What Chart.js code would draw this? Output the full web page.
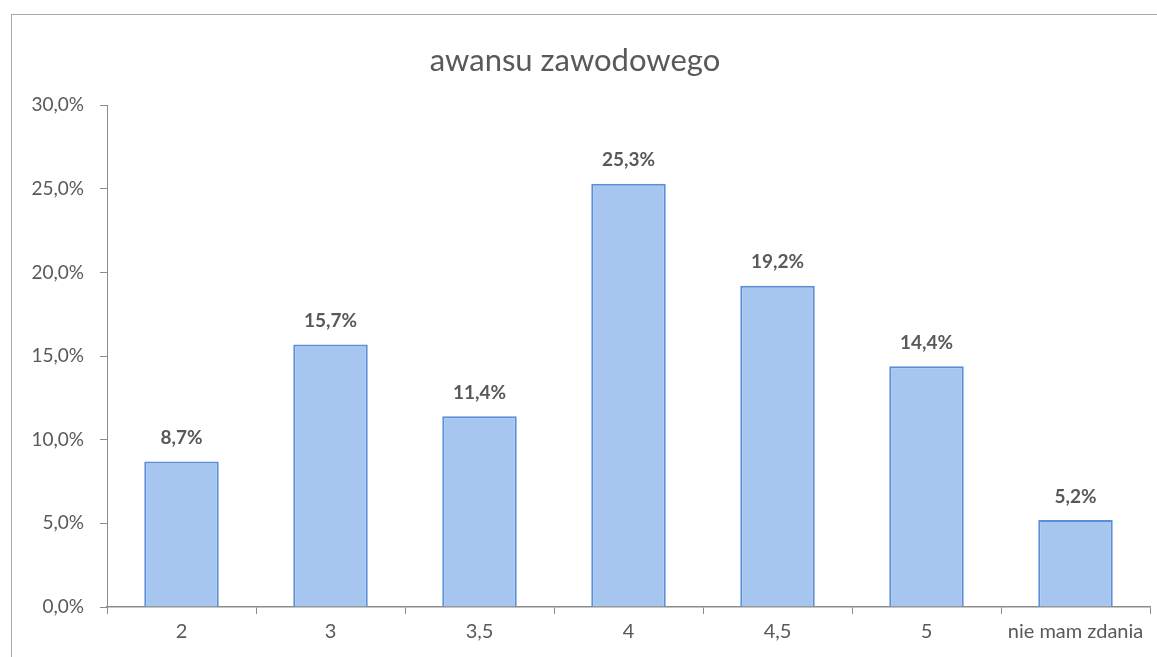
<!DOCTYPE html>
<html>
<head>
<meta charset="utf-8">
<script src="https://cdn.jsdelivr.net/npm/chart.js@4/dist/chart.umd.min.js"></script>
<style>
  html, body { margin: 0; padding: 0; background: #fff; }
  #wrap { position: relative; width: 1157px; height: 657px; overflow: hidden; }
  /* outer chart frame, its right and bottom edges fall outside the picture */
  #frame { position: absolute; left: 11px; top: 14px; width: 1200px; height: 700px;
           border: 1px solid #a8a8b4; }
  #chart { position: absolute; left: 0; top: 0; }
</style>
</head>
<body>
<div id="wrap">
  <div id="frame"></div>
  <canvas id="chart" width="1157" height="657"></canvas>
</div>
<script>
/* ── Data ─────────────────────────────────────────────── */
const categories = ["2", "3", "3,5", "4", "4,5", "5", "nie mam zdania"];
const values     = [8.7, 15.7, 11.4, 25.3, 19.2, 14.4, 5.2];
const yTicks     = [0, 5, 10, 15, 20, 25, 30];

const TEXT_GREY = "#595959";
const FONT = "Lato, 'Open Sans', sans-serif";

/* Polish number format: 15.7 -> "15,7%" */
function pct(v) {
  return v.toFixed(1).replace(".", ",") + "%";
}

/* ── Value labels above each bar ──────────────────────── */
const barLabels = {
  id: "barLabels",
  afterDatasetsDraw(chart) {
    const ctx = chart.ctx;
    const meta = chart.getDatasetMeta(0);
    ctx.save();
    ctx.font = "bold 19px " + FONT;
    ctx.fillStyle = TEXT_GREY;
    ctx.textAlign = "center";
    ctx.textBaseline = "bottom";
    meta.data.forEach((bar, i) => {
      ctx.fillText(pct(values[i]), bar.x, bar.y - 14);
    });
    ctx.restore();
  }
};

new Chart(document.getElementById("chart"), {
  type: "bar",
  data: {
    labels: categories,
    datasets: [{
      data: values,
      backgroundColor: "#a6c6f0",
      borderColor: "#5a8fd8",
      borderWidth: 2,
      categoryPercentage: 1,
      barPercentage: 0.5
    }]
  },
  options: {
    responsive: false,
    animation: false,
    layout: { padding: { left: 0, right: 7, top: 0, bottom: 0 } },
    plugins: {
      legend: { display: false },
      tooltip: { enabled: false },
      title: {
        display: true,
        text: "awansu zawodowego",
        color: TEXT_GREY,
        font: { family: FONT, size: 31, weight: "normal" },
        padding: { top: 42, bottom: 26 }
      }
    },
    scales: {
      x: {
        grid: { display: true, drawOnChartArea: false, offset: true,
                color: "#8c8c8c", tickLength: 7 },
        border: { color: "#8c8c8c", width: 1.5 },
        ticks: { color: TEXT_GREY, font: { family: FONT, size: 20 }, padding: 6 },
        afterFit(scale) { scale.height = 50; }
      },
      y: {
        min: 0,
        max: 30,
        afterBuildTicks(scale) { scale.ticks = yTicks.map(v => ({ value: v })); },
        grid: { display: true, drawOnChartArea: false, color: "#8c8c8c", tickLength: 7 },
        border: { color: "#8c8c8c", width: 1 },
        ticks: { color: TEXT_GREY, font: { family: FONT, size: 19 }, padding: 16,
                 callback: v => pct(v) },
        afterFit(scale) { scale.width = 107; }
      }
    }
  },
  plugins: [barLabels]
});
</script>
</body>
</html>
